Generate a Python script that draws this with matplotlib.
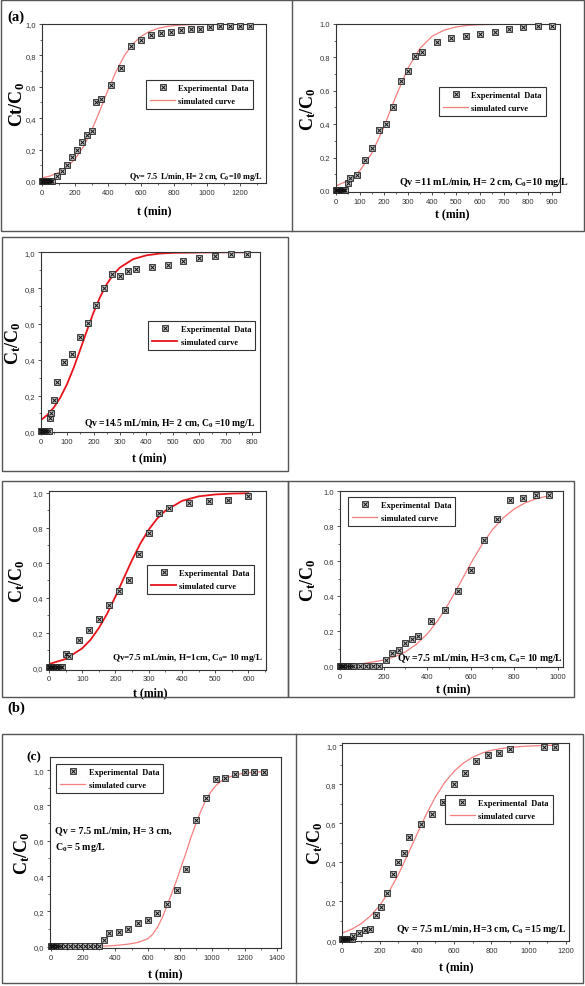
import matplotlib
matplotlib.use('Agg')
import matplotlib.pyplot as plt
from matplotlib.patches import Rectangle
from matplotlib.legend_handler import HandlerTuple
from matplotlib.ticker import MultipleLocator, FuncFormatter

# ---- data ----
# (a) Qv=7.5, H=2 cm, C0=10
a1_t = [0, 4, 8, 12, 16, 20, 25, 30, 35, 40, 45, 50, 55, 60, 90, 120, 150, 180, 210, 240, 270, 300,
        330, 360, 420, 480, 540, 600, 660, 720, 780, 840, 900, 960, 1020, 1080, 1140, 1200, 1260]
a1_y = [0, 0, 0, 0, 0, 0, 0, 0, 0, 0, 0, 0, 0, 0, 0.03, 0.065, 0.10, 0.15, 0.20, 0.25, 0.29, 0.32,
        0.50, 0.52, 0.61, 0.72, 0.86, 0.90, 0.93, 0.94, 0.95, 0.96, 0.97, 0.97, 0.98, 0.99, 0.99, 0.99, 0.99]
a1_ct = [0, 50, 100, 150, 200, 250, 300, 350, 400, 450, 500, 550, 600, 650, 700, 750, 800, 850, 900, 1000, 1100, 1280]
a1_cy = [0.019, 0.032, 0.053, 0.087, 0.14, 0.217, 0.32, 0.447, 0.58, 0.70, 0.80, 0.873, 0.921, 0.952,
         0.971, 0.983, 0.99, 0.994, 0.996, 0.999, 1.0, 1.0]

# Qv=11
a2_t = [0, 5, 10, 15, 20, 25, 30, 35, 40, 50, 60, 90, 120, 150, 180, 210, 240, 270, 300, 330, 360,
        420, 480, 540, 600, 660, 720, 780, 840, 900]
a2_y = [0.005, 0.005, 0.005, 0.005, 0.005, 0.005, 0.005, 0.005, 0.005, 0.045, 0.08, 0.094, 0.188, 0.258,
        0.368, 0.40, 0.50, 0.66, 0.72, 0.808, 0.832, 0.89, 0.918, 0.93, 0.94, 0.95, 0.97, 0.98, 0.99, 0.99]
a2_ct = [0, 50, 100, 150, 200, 250, 300, 350, 400, 450, 500, 550, 600, 700, 800, 900]
a2_cy = [0.030, 0.061, 0.121, 0.226, 0.382, 0.567, 0.735, 0.854, 0.926, 0.963, 0.982, 0.992, 0.996, 0.999, 1.0, 1.0]

# Qv=14.5
a3_t = [0, 4, 8, 12, 16, 20, 25, 30, 35, 40, 50, 60, 90, 120, 150, 180, 210, 240, 270, 300, 330, 360,
        420, 480, 540, 600, 660, 720, 780]
a3_y = [0.005, 0.005, 0.005, 0.005, 0.005, 0.005, 0.005, 0.005, 0.075, 0.10, 0.178, 0.278, 0.389, 0.43,
        0.528, 0.607, 0.707, 0.80, 0.88, 0.869, 0.898, 0.907, 0.918, 0.93, 0.95, 0.969, 0.978, 0.989, 0.989]
a3_ct = [0, 25, 50, 75, 100, 125, 150, 175, 200, 225, 250, 275, 300, 350, 400, 450, 500, 600, 700, 780]
a3_cy = [0.062, 0.092, 0.134, 0.191, 0.265, 0.356, 0.458, 0.563, 0.664, 0.751, 0.822, 0.876, 0.915,
         0.962, 0.983, 0.993, 0.997, 0.999, 1.0, 1.0]

# (b) H=1 cm
b1_t = [0, 3, 6, 9, 12, 15, 20, 25, 30, 35, 40, 50, 60, 90, 120, 150, 180, 210, 240, 270, 300, 330,
        360, 420, 480, 540, 600]
b1_y = [0.004, 0.004, 0.004, 0.004, 0.004, 0.004, 0.004, 0.004, 0.004, 0.004, 0.004, 0.078, 0.07, 0.158,
        0.219, 0.278, 0.358, 0.438, 0.50, 0.65, 0.77, 0.884, 0.912, 0.94, 0.952, 0.962, 0.981]
b1_ct = [0, 50, 100, 125, 150, 175, 200, 225, 250, 275, 300, 325, 350, 400, 450, 500, 550, 600]
b1_cy = [0.022, 0.051, 0.112, 0.161, 0.228, 0.31, 0.408, 0.513, 0.617, 0.711, 0.79, 0.852, 0.898,
         0.954, 0.98, 0.991, 0.996, 0.998]

# H=3 cm
b2_t = [0, 5, 10, 15, 20, 30, 40, 50, 60, 90, 120, 150, 180, 210, 240, 270, 300, 330, 360, 420, 480,
        540, 600, 660, 720, 780, 840, 900, 960]
b2_y = [0.004, 0.004, 0.004, 0.004, 0.004, 0.004, 0.004, 0.004, 0.004, 0.004, 0.004, 0.004, 0.004,
        0.038, 0.076, 0.093, 0.135, 0.158, 0.175, 0.26, 0.32, 0.43, 0.55, 0.72, 0.84, 0.952, 0.962, 0.981, 0.981]
b2_ct = [0, 100, 200, 250, 300, 350, 400, 450, 500, 550, 600, 650, 700, 750, 800, 850, 900, 960]
b2_cy = [0.006, 0.014, 0.035, 0.054, 0.082, 0.125, 0.184, 0.263, 0.361, 0.472, 0.587, 0.692, 0.781,
         0.849, 0.899, 0.934, 0.957, 0.975]

# (c) C0=5
c1_t = [0, 5, 10, 15, 20, 30, 40, 50, 60, 90, 120, 150, 180, 210, 240, 270, 300, 330, 360, 420, 480,
        540, 600, 660, 720, 780, 840, 900, 960, 1020, 1080, 1140, 1200, 1260, 1320]
c1_y = [0.003, 0.003, 0.003, 0.003, 0.003, 0.003, 0.003, 0.003, 0.003, 0.003, 0.003, 0.003, 0.003,
        0.003, 0.003, 0.003, 0.003, 0.04, 0.079, 0.085, 0.10, 0.132, 0.151, 0.19, 0.242, 0.321, 0.44,
        0.719, 0.84, 0.947, 0.956, 0.977, 0.987, 0.987, 0.987]
c1_ct = [0, 200, 300, 360, 420, 480, 540, 600, 630, 660, 690, 720, 750, 780, 810, 840, 870, 900, 930,
         960, 990, 1020, 1050, 1080, 1140, 1200, 1260, 1320]
c1_cy = [0.0, 0.001, 0.003, 0.005, 0.009, 0.015, 0.025, 0.045, 0.07, 0.11, 0.165, 0.235, 0.305, 0.38,
         0.46, 0.54, 0.625, 0.70, 0.77, 0.83, 0.875, 0.91, 0.935, 0.952, 0.972, 0.983, 0.988, 0.991]

# C0=15
c2_t = [0, 5, 10, 15, 20, 25, 30, 40, 50, 60, 90, 120, 150, 180, 210, 240, 270, 300, 330, 360, 420,
        480, 540, 600, 660, 720, 780, 840, 900, 1080, 1140]
c2_y = [0.008, 0.008, 0.008, 0.008, 0.008, 0.008, 0.008, 0.008, 0.008, 0.022, 0.037, 0.051, 0.056,
        0.128, 0.169, 0.244, 0.341, 0.402, 0.45, 0.528, 0.595, 0.649, 0.707, 0.802, 0.855, 0.92, 0.951,
        0.961, 0.98, 0.99, 0.99]
c2_ct = [0, 50, 100, 150, 200, 250, 300, 350, 400, 450, 500, 550, 600, 650, 700, 750, 800, 850, 900,
         950, 1000, 1100, 1150]
c2_cy = [0.038, 0.057, 0.085, 0.124, 0.178, 0.249, 0.336, 0.437, 0.542, 0.644, 0.735, 0.809, 0.866,
         0.908, 0.938, 0.959, 0.973, 0.982, 0.988, 0.992, 0.995, 0.998, 0.999]

# ---- styling ----
W, H = 585, 987
SERIF = 'Liberation Serif'
SANS = 'Liberation Sans'
PINK = '#f47f7f'
RED = '#e8141b'

plt.rcParams['mathtext.fontset'] = 'custom'
plt.rcParams['mathtext.rm'] = 'Liberation Serif:bold'
plt.rcParams['mathtext.it'] = 'Liberation Serif:bold'
plt.rcParams['mathtext.bf'] = 'Liberation Serif:bold'

fig = plt.figure(figsize=(W / 100, H / 100), dpi=100)
fig.patch.set_facecolor('white')


def frame(l, t, r, b):
    fig.add_artist(Rectangle((l / W, 1 - b / H), (r - l) / W, (b - t) / H, transform=fig.transFigure,
                             fill=False, ec='#555555', lw=1.0))


def vline(x, t, b):
    fig.add_artist(plt.Line2D([x / W, x / W], [1 - t / H, 1 - b / H], transform=fig.transFigure,
                              color='#555555', lw=1.0))


def panel(box, t, y, ct, cy, color, lw, xlim, ylim, xstep, comma, ylabel, ylab_x, xlab_xy,
          leg_xy, note, note_xy, note_size, note_ha='right'):
    l, top, r, b = box
    ax = fig.add_axes([l / W, 1 - b / H, (r - l) / W, (b - top) / H])
    ax.plot(ct, cy, color=color, lw=lw, zorder=2)
    sq, = ax.plot(t, y, ls='none', marker='s', ms=3.7, mfc='#c4c4c4', mec='#222222', mew=0.6,
                  zorder=3, clip_on=False)
    xm, = ax.plot(t, y, ls='none', marker='x', ms=2.4, mec='#111111', mew=0.7, zorder=4, clip_on=False)
    line, = ax.plot([], [], color=color, lw=lw)
    ax.set_xlim(*xlim)
    ax.set_ylim(*ylim)

    ax.xaxis.set_major_locator(MultipleLocator(xstep))
    ax.xaxis.set_minor_locator(MultipleLocator(xstep / 2))
    ax.yaxis.set_major_locator(MultipleLocator(0.2))
    ax.yaxis.set_minor_locator(MultipleLocator(0.1))
    if comma:
        ax.yaxis.set_major_formatter(FuncFormatter(lambda v, p: f"{v:.1f}".replace('.', ',')))
    else:
        ax.yaxis.set_major_formatter(FuncFormatter(lambda v, p: f"{v:.1f}"))
    ax.xaxis.set_major_formatter(FuncFormatter(lambda v, p: f"{v:.0f}"))
    ax.tick_params(which='major', direction='out', length=2.5, width=0.6, color='#333333',
                   labelsize=5.5, labelcolor='#333333', pad=1.5)
    ax.tick_params(which='minor', direction='out', length=1.4, width=0.5, color='#333333')
    for lab in ax.get_xticklabels() + ax.get_yticklabels():
        lab.set_fontfamily(SANS)
    for s in ax.spines.values():
        s.set_color('#333333')
        s.set_linewidth(0.8)

    ax.set_ylabel(ylabel, fontfamily=SERIF, fontweight='bold', fontsize=13, va='center')
    ax.yaxis.set_label_coords(ylab_x, 0.5)
    ax.set_xlabel('t (min)', fontfamily=SERIF, fontweight='bold', fontsize=8.5, va='center')
    ax.xaxis.set_label_coords(*xlab_xy)

    leg = ax.legend([(sq, xm), line], ['Experimental  Data', 'simulated curve'],
                    handler_map={tuple: HandlerTuple(ndivide=1)}, loc='upper left',
                    bbox_to_anchor=leg_xy, borderaxespad=0, fancybox=False, framealpha=1,
                    edgecolor='#333333', handlelength=3.0, handletextpad=0.4, borderpad=0.5,
                    labelspacing=0.55, numpoints=1,
                    prop={'family': SERIF, 'weight': 'bold', 'size': 6.0})
    leg.get_frame().set_linewidth(0.8)

    if isinstance(note, str):
        note = [note]
        note_xy = [note_xy]
    for txt, (nx, ny) in zip(note, note_xy):
        ax.text(nx, ny, txt, transform=ax.transAxes, ha=note_ha, va='center',
                fontfamily=SERIF, fontweight='bold', fontsize=note_size)
    return ax


# frames around the sub-figures
frame(1, 1, 584, 232)
vline(292, 1, 232)
frame(2, 238, 288, 472)
frame(2, 482, 288, 698)
frame(288, 482, 574, 698)
frame(2, 735, 583, 984)
vline(296, 735, 984)

panel((42, 25, 266, 184), a1_t, a1_y, a1_ct, a1_cy, PINK, 0.9, (0, 1357), (-0.013, 1.0), 200, True,
      'Ct/C$_0$', -0.112, (0.5, -0.17), (0.464, 0.648),
      'Qv= 7.5  L/min, H= 2 cm, C$_0$=10 mg/L', (0.987, 0.044), 5.9)
panel((335.7, 25, 560, 193), a2_t, a2_y, a2_ct, a2_cy, PINK, 0.9, (0, 932), (-0.006, 1.0), 100, False,
      'C$_t$/C$_0$', -0.122, (0.52, -0.125), (0.46, 0.625),
      'Qv =11 mL/min, H= 2 cm, C$_0$=10 mg/L', (1.037, 0.06), 7.3)
panel((40.7, 253.3, 260, 433.3), a3_t, a3_y, a3_ct, a3_cy, RED, 1.3, (0, 830), (-0.005, 1.0), 100, True,
      'C$_t$/C$_0$', -0.125, (0.494, -0.139), (0.49, 0.618),
      'Qv =14.5 mL/min, H= 2 cm, C$_0$ =10 mg/L', (0.977, 0.057), 6.9)
panel((49, 492.3, 265.7, 670.7), b1_t, b1_y, b1_ct, b1_cy, RED, 1.3, (0, 652), (-0.01, 1.009), 100, True,
      'C$_t$/C$_0$', -0.149, (0.466, -0.127), (0.452, 0.587),
      'Qv=7.5 mL/min, H=1cm, C$_0$= 10 mg/L', (0.988, 0.071), 6.6)
panel((340, 492.3, 563.3, 668.3), b2_t, b2_y, b2_ct, b2_cy, PINK, 0.9, (0, 1025), (-0.006, 1.0), 200, False,
      'C$_t$/C$_0$', -0.142, (0.507, -0.118), (0.036, 0.968),
      'Qv =7.5 mL/min, H=3 cm, C$_0$= 10 mg/L', (1.0, 0.058), 7.0)
panel((50, 758, 281, 949), c1_t, c1_y, c1_ct, c1_cy, PINK, 0.9, (-6, 1426), (-0.007, 1.074), 200, True,
      'C$_t$/C$_0$', -0.122, (0.5, -0.131), (0.026, 0.963),
      ['Qv = 7.5 mL/min, H= 3 cm,', 'C$_0$= 5 mg/L'], [(0.022, 0.618), (0.022, 0.529)], 7.2, note_ha='left')
panel((342.3, 744.3, 569.3, 942), c2_t, c2_y, c2_ct, c2_cy, PINK, 0.9, (0, 1218), (-0.003, 1.009), 200, True,
      'C$_t$/C$_0$', -0.12, (0.5, -0.13), (0.454, 0.738),
      'Qv = 7.5 mL/min, H=3 cm, C$_0$ =15 mg/L', (0.99, 0.061), 7.1)

# panel letters
fig.text(15.5 / W, 1 - 17.5 / H, '(a)', fontfamily=SERIF, fontweight='bold', fontsize=10.5,
         ha='center', va='center')
fig.text(16 / W, 1 - 708 / H, '(b)', fontfamily=SERIF, fontweight='bold', fontsize=10.5,
         ha='center', va='center')
fig.text(34 / W, 1 - 757 / H, '(c)', fontfamily=SERIF, fontweight='bold', fontsize=9.5,
         ha='center', va='center')

fig.savefig('out.png', dpi=100)
